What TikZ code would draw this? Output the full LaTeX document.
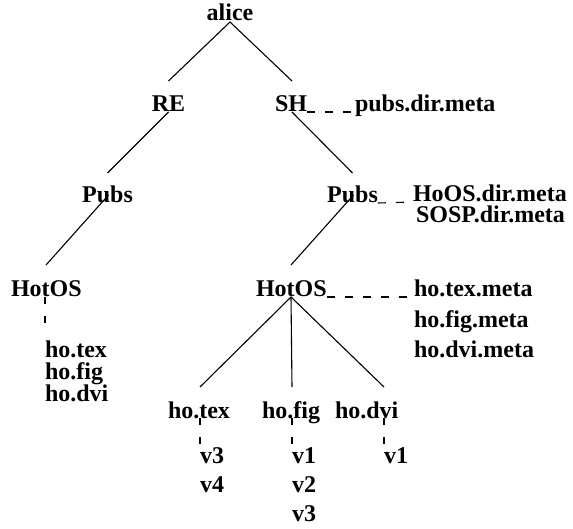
\documentclass[tikz,border=0pt]{standalone}
\usepackage{fontspec}
\setmainfont{Liberation Serif}
\begin{document}
\begin{tikzpicture}[x=1pt,y=-1pt,
  lbl/.style={inner sep=0pt, outer sep=0pt, font=\fontsize{24}{28}\selectfont\bfseries, anchor=base west},
  edge/.style={line width=1.1pt},
  metalink/.style={line width=1.1pt, dash pattern=on 8pt off 10pt},
  metadrop/.style={line width=1.1pt, dash pattern=on 7pt off 12pt}]
\useasboundingbox (0,0) rectangle (573,529);

% directory tree
\node[lbl, anchor=base] (alice) at (230,21) {alice};
\node[lbl, anchor=base] (re) at (168.5,112) {RE};
\node[lbl] (sh) at (275,112) {SH};
\node[lbl, anchor=base] (pubsL) at (107.5,203) {Pubs};
\node[lbl, anchor=base] (pubsR) at (352.5,203) {Pubs};
\node[lbl] (hotosL) at (11,297) {HotOS};
\node[lbl] (hotosR) at (256,297) {HotOS};
\node[lbl] (hotex) at (168,418) {ho.tex};
\node[lbl] (hofig) at (262,418) {ho.fig};
\node[lbl] (hodvi) at (335,418) {ho.dvi};

% metadata files
\node[lbl] (shmeta) at (355,112) {pubs.dir.meta};
\node[lbl] (pubsmetaA) at (413,202) {HoOS.dir.meta};
\node[lbl] (pubsmetaB) at (416,223) {SOSP.dir.meta};
\node[lbl] (texmeta) at (414,297) {ho.tex.meta};
\node[lbl] (figmeta) at (414,327) {ho.fig.meta};
\node[lbl] (dvimeta) at (414,357) {ho.dvi.meta};

% plain file listing
\node[lbl] (listA) at (45,357) {ho.tex};
\node[lbl] (listB) at (45,379) {ho.fig};
\node[lbl] (listC) at (45,401) {ho.dvi};
\coordinate (listend) at (45,323);

% versions
\node[lbl] (texv3) at (200,463) {v3};
\node[lbl] (texv4) at (200,492) {v4};
\node[lbl] (figv1) at (292,463) {v1};
\node[lbl] (figv2) at (292,492) {v2};
\node[lbl] (figv3) at (292,521) {v3};
\node[lbl] (dviv1) at (384,463) {v1};

% tree edges
\draw[edge] ([yshift=-1pt]alice.base) -- ([yshift=31pt]re.base);
\draw[edge] ([yshift=-1pt]alice.base) -- ([xshift=17pt,yshift=31pt]sh.base west);
\draw[edge] (re.base) -- ([yshift=30pt]pubsL.base);
\draw[edge] ([xshift=17pt]sh.base west) -- ([yshift=30pt]pubsR.base);
\draw[edge] ([xshift=1pt,yshift=8pt]pubsL.base) -- ([xshift=35pt,yshift=32pt]hotosL.base west);
\draw[edge] ([xshift=1pt,yshift=8pt]pubsR.base) -- ([xshift=35pt,yshift=32pt]hotosR.base west);
\draw[edge] ([xshift=35pt]hotosR.base west) -- ([xshift=32pt,yshift=31pt]hotex.base west);
\draw[edge] ([xshift=35pt]hotosR.base west) -- ([xshift=30pt,yshift=31pt]hofig.base west);
\draw[edge] ([xshift=35pt]hotosR.base west) -- ([xshift=49pt,yshift=31pt]hodvi.base west);

% links to metadata
\draw[metalink] (sh.base east) -- (shmeta.base west);
\draw[metalink] (pubsR.base east) -- (pubsmetaA.base west);
\draw[metalink] (hotosR.base east) -- (texmeta.base west);
\draw[metadrop] ([xshift=34pt]hotosL.base west) -- (listend);
\draw[metadrop] ([xshift=32pt]hotex.base west) -- (texv3.north west);
\draw[metadrop] ([xshift=30pt]hofig.base west) -- (figv1.north west);
\draw[metadrop] ([xshift=49pt]hodvi.base west) -- (dviv1.north west);
\end{tikzpicture}
\end{document}
